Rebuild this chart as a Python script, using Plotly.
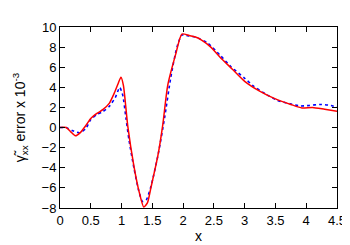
import plotly.graph_objects as go

red_x = [0, 0.1, 0.17, 0.25, 0.33, 0.42, 0.5, 0.6, 0.7, 0.8, 0.88, 0.94, 0.99, 1.03,
         1.1, 1.2, 1.29, 1.36, 1.42, 1.48, 1.59, 1.67, 1.75, 1.88, 1.98, 2.1, 2.2, 2.3,
         2.45, 2.6, 2.8, 3.0, 3.25, 3.5, 3.75, 3.93, 4.1, 4.3, 4.5]
red_y = [0, 0, -0.4, -0.82, -0.5, 0.2, 0.9, 1.4, 1.8, 2.4, 3.4, 4.3, 5.0, 4.2,
         0.2, -3.8, -6.5, -7.9, -7.5, -5.9, -2.8, 0.3, 4.2, 7.3, 9.3, 9.15, 9.0, 8.7,
         8.0, 7.0, 5.8, 4.6, 3.6, 2.85, 2.3, 1.95, 2.0, 1.82, 1.63]

blue_x = [0, 0.1, 0.2, 0.32, 0.42, 0.5, 0.6, 0.7, 0.8, 0.9, 0.97, 1.02, 1.07, 1.12,
          1.2, 1.28, 1.34, 1.4, 1.48, 1.6, 1.7, 1.8, 1.9, 1.98, 2.1, 2.2, 2.4, 2.6,
          2.77, 3.0, 3.15, 3.35, 3.53, 3.75, 3.9, 4.05, 4.23, 4.4, 4.5]
blue_y = [0, 0, -0.3, -0.52, -0.1, 0.8, 1.3, 1.6, 2.1, 3.0, 4.0, 3.2, 1.0, -1.2,
          -4.0, -6.3, -7.35, -7.2, -5.8, -2.5, 1.0, 5.0, 8.0, 9.2, 9.1, 9.0, 8.4, 7.2,
          6.1, 4.9, 4.1, 3.3, 2.7, 2.35, 2.15, 2.2, 2.3, 2.2, 2.03]

x_ticks = [0, 0.5, 1, 1.5, 2, 2.5, 3, 3.5, 4, 4.5]
x_labels = ["0", "0.5", "1", "1.5", "2", "2.5", "3", "3.5", "4", "4.5"]
y_ticks = [-8, -6, -4, -2, 0, 2, 4, 6, 8, 10]

fig = go.Figure()
fig.add_trace(go.Scatter(x=blue_x, y=blue_y, mode="lines",
                         line=dict(color="#0000ff", width=1.6, dash="dot", shape="spline", smoothing=0.6)))
fig.add_trace(go.Scatter(x=red_x, y=red_y, mode="lines",
                         line=dict(color="#ff0000", width=1.5, shape="spline", smoothing=0.6)))

axis_common = dict(showgrid=False, zeroline=False, showline=True, linecolor="black",
                   linewidth=1, mirror="ticks", ticks="inside", ticklen=5,
                   tickcolor="black", tickfont=dict(family="Liberation Sans, Arial", size=13, color="black"))

fig.update_layout(
    width=350, height=245,
    margin=dict(l=52, r=20, t=14, b=36),
    paper_bgcolor="white", plot_bgcolor="white",
    showlegend=False,
    font=dict(family="Liberation Sans, Arial", size=12, color="black"),
    xaxis=dict(range=[0, 4.5], tickvals=x_ticks, ticktext=x_labels,
               title=dict(text="x", standoff=4), **axis_common),
    yaxis=dict(range=[-8, 10], tickvals=y_ticks,
               title=dict(text="γ̃<sub>xx</sub> error x 10<sup>-3</sup>", standoff=12), **axis_common),
)

fig.write_html("out.html")
